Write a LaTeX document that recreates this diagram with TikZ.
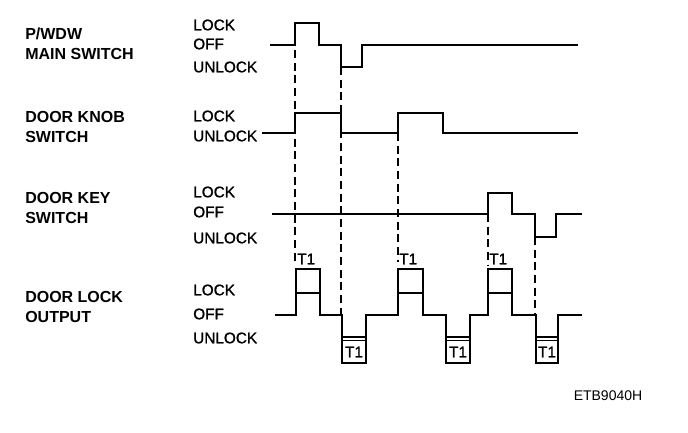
\documentclass[tikz,border=0pt]{standalone}
\usepackage{fontspec}
\setmainfont{Liberation Sans}
\newfontfamily\semibold[FakeBold=1.2]{Liberation Sans}
\usetikzlibrary{positioning}
\definecolor{inkblack}{HTML}{000000}

\begin{document}
\begin{tikzpicture}[x=0.75pt, y=-0.75pt,
    sigtitle/.style={anchor=west, align=left, inner sep=0pt, text=inkblack,
      font=\fontsize{12}{15}\selectfont\bfseries},
    level/.style={anchor=west, inner sep=0pt, text=inkblack,
      font=\fontsize{11.5}{13}\selectfont\semibold},
    tlabel/.style={inner sep=0pt, text=inkblack, font=\fontsize{11.5}{13}\selectfont\semibold},
    wave/.style={draw=inkblack, line width=2.2pt, line join=miter},
    guide/.style={draw=inkblack, line width=1.5pt, dash pattern=on 6pt off 3.5pt},
    tbox/.style={draw=inkblack, line width=1.5pt}]
  \useasboundingbox (0,0) rectangle (688,432);

  % signal names
  \node[sigtitle] (mainsw) at (25,43.5) {P/WDW\\MAIN SWITCH};
  \node[sigtitle] (knobsw) at (25,127) {DOOR KNOB\\SWITCH};
  \node[sigtitle] (keysw) at (25,207.5) {DOOR KEY\\SWITCH};
  \node[sigtitle] (lockout) at (25,306.5) {DOOR LOCK\\OUTPUT};

  % levels
  \node[level] (mainlock) at (193,25) {LOCK};
  \node[level] (mainoff) at (193,44) {OFF};
  \node[level] (mainunlock) at (193,67) {UNLOCK};
  \node[level] (knoblock) at (193,116) {LOCK};
  \node[level] (knobunlock) at (193,136) {UNLOCK};
  \node[level] (keylock) at (193,192) {LOCK};
  \node[level] (keyoff) at (193,212) {OFF};
  \node[level] (keyunlock) at (193,238) {UNLOCK};
  \node[level] (outlock) at (193,290) {LOCK};
  \node[level] (outoff) at (193,314) {OFF};
  \node[level] (outunlock) at (193,338) {UNLOCK};

  % guide lines
  \draw[guide] (295,50) -- (295,262);
  \draw[guide] (341,67) -- (341,315);
  \draw[guide] (398,133) -- (398,262);
  \draw[guide] (488,214) -- (488,265);
  \draw[guide] (535,237) -- (535,315);

  % waveforms
  \draw[wave] (270,45) -- (295,45) -- (295,23) -- (319,23) -- (319,45) -- (341,45)
    -- (341,67) -- (362,67) -- (362,45) -- (578,45);
  \draw[wave] (262,133) -- (295,133) -- (295,113) -- (341,113) -- (341,133) -- (398,133)
    -- (398,113) -- (443,113) -- (443,133) -- (578,133);
  \draw[wave] (272,214) -- (488,214) -- (488,193) -- (512,193) -- (512,214) -- (535,214)
    -- (535,237) -- (556,237) -- (556,214) -- (582,214);
  \draw[wave] (275,315) -- (296,315) -- (296,293) -- (320,293) -- (320,315) -- (342,315)
    -- (342,337) -- (366,337) -- (366,315) -- (398,315) -- (398,293) -- (423,293)
    -- (423,315) -- (446,315) -- (446,337) -- (470,337) -- (470,315) -- (488,315)
    -- (488,293) -- (512,293) -- (512,315) -- (536,315) -- (536,337) -- (558,337)
    -- (558,315) -- (582,315);

  % T1 markers
  \foreach \xa/\xb [count=\i] in {296/320, 398/423, 488/512} {
    \draw[tbox] (\xa,293) -- (\xa,269) -- (\xb,269) -- (\xb,293);
    \node[tlabel, anchor=west] (tup\i) at (\xa+1,259) {T1};
  }
  \foreach \xa/\xb [count=\i] in {342/366, 446/470, 536/558} {
    \draw[tbox] (\xa,337) -- (\xa,364) (\xb,337) -- (\xb,364);
    \draw[draw=inkblack, line width=0.8pt] (\xa,340.5) -- (\xb,340.5);
    \draw[tbox] (\xa,362.5) -- (\xb,362.5);
    \node[tlabel] (tdn\i) at ({(\xa+\xb)/2},352) {T1};
  }

  \node[tlabel, font=\fontsize{10.5}{12}\selectfont] (figid) at (608,396) {ETB9040H};
\end{tikzpicture}
\end{document}
